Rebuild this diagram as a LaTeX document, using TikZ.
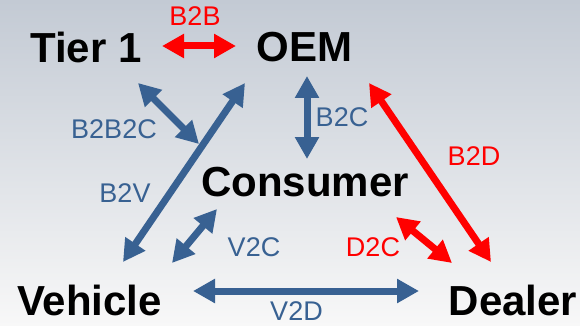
\documentclass[tikz,border=0pt]{standalone}
\usepackage{fontspec}
\setmainfont{Liberation Sans}
\usetikzlibrary{arrows.meta}
\definecolor{bgtop}{RGB}{195,202,212}
\definecolor{bgbot}{RGB}{248,248,248}
\definecolor{linkblue}{RGB}{56,97,146}
\definecolor{linkred}{RGB}{255,0,0}
\tikzset{
  party/.style={font=\fontsize{42}{42}\selectfont\bfseries, inner sep=0pt, anchor=base},
  tag/.style={font=\fontsize{27}{27}\selectfont, inner sep=0pt, anchor=base},
  link/.style={line width=7pt, {Triangle[length=22pt,width=23pt]}-{Triangle[length=22pt,width=23pt]}},
  bluelink/.style={link, draw=linkblue, fill=linkblue},
  redlink/.style={link, draw=linkred, fill=linkred},
}
\begin{document}
\begin{tikzpicture}[x=1pt, y=-1pt]
  % backdrop
  \shade[top color=bgtop, bottom color=bgbot] (0,0) rectangle (580,326);
  \useasboundingbox (0,0) rectangle (580,326);

  % parties
  \node[party] (tier) at (86,63) {Tier 1};
  \node[party] (oem) at (304.5,62) {OEM};
  \node[party] (cons) at (305,196) {Consumer};
  \node[party] (veh) at (89.5,315) {Vehicle};
  \node[party] (deal) at (513,315) {Dealer};

  % arrow end points
  \coordinate (b2bA) at (162,46);  \coordinate (b2bB) at (236,46);
  \coordinate (bbcA) at (138,83);  \coordinate (bbcB) at (199,144);
  \coordinate (b2vA) at (123,262); \coordinate (b2vB) at (245,83);
  \coordinate (b2cA) at (307,76);  \coordinate (b2cB) at (307,159);
  \coordinate (b2dA) at (369,83);  \coordinate (b2dB) at (491,262);
  \coordinate (d2cA) at (396,217); \coordinate (d2cB) at (452,263);
  \coordinate (v2cA) at (172,263); \coordinate (v2cB) at (217,209);
  \coordinate (v2dA) at (193,291); \coordinate (v2dB) at (419,291);

  % links
  \draw[redlink]  (b2bA) -- (b2bB);
  \draw[bluelink] (bbcA) -- (bbcB);
  \draw[bluelink] (b2vA) -- (b2vB);
  \draw[bluelink] (b2cA) -- (b2cB);
  \draw[redlink]  (b2dA) -- (b2dB);
  \draw[redlink]  (d2cA) -- (d2cB);
  \draw[bluelink] (v2cA) -- (v2cB);
  \draw[bluelink] (v2dA) -- (v2dB);

  % link labels
  \node[tag, text=linkred]  (lb2b) at (195,26)    {B2B};
  \node[tag, text=linkblue] (lbbc) at (114,138)   {B2B2C};
  \node[tag, text=linkblue] (lb2v) at (125,202)   {B2V};
  \node[tag, text=linkblue] (lb2c) at (342,126)   {B2C};
  \node[tag, text=linkred]  (lb2d) at (474,165)   {B2D};
  \node[tag, text=linkred]  (ld2c) at (373,256)   {D2C};
  \node[tag, text=linkblue] (lv2c) at (254,256)   {V2C};
  \node[tag, text=linkblue] (lv2d) at (296.5,320.5) {V2D};
\end{tikzpicture}
\end{document}
